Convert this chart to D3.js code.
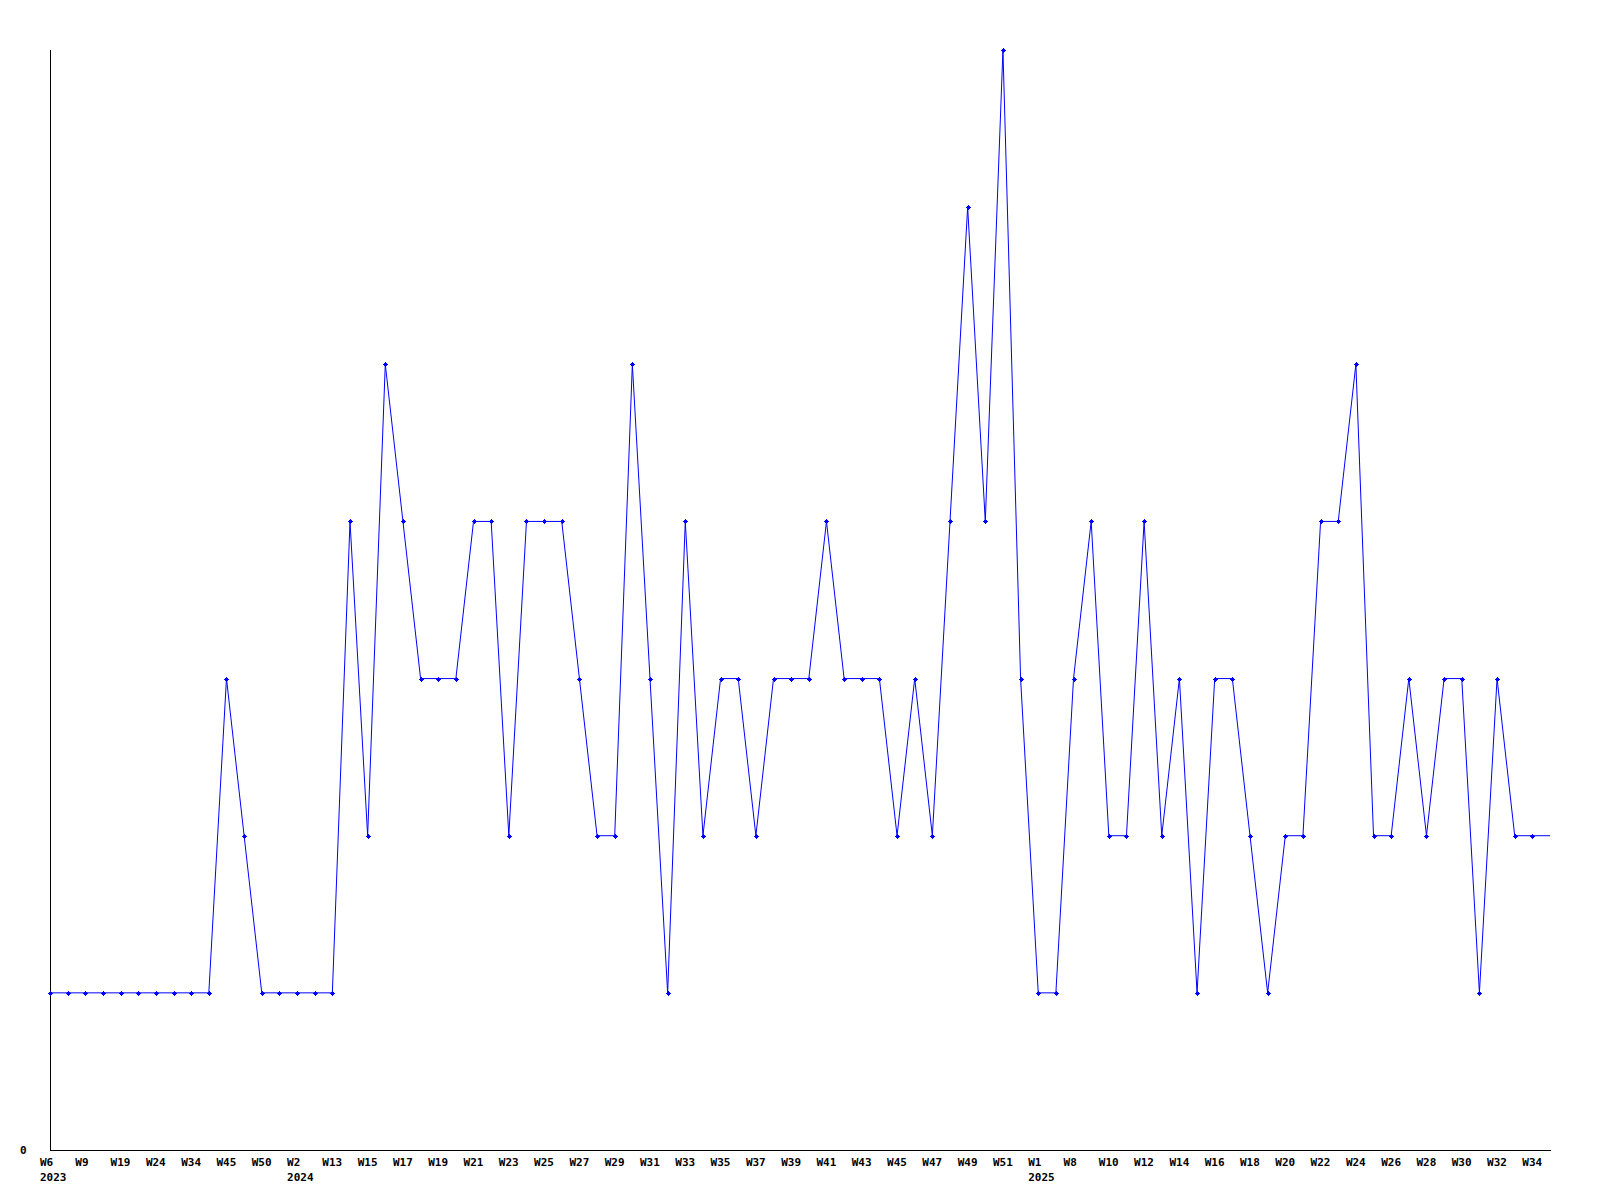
<!DOCTYPE html>
<html>
<head>
<meta charset="utf-8">
<script src="https://cdn.jsdelivr.net/npm/d3@7"></script>
<style>
  html, body { margin: 0; padding: 0; background: #fff; }
  text { font-family: "DejaVu Sans Mono", "Liberation Mono", monospace; font-weight: bold; font-size: 11px; fill: #000; }
</style>
</head>
<body>
<svg id="chart" width="1600" height="1200"></svg>
<script>
// Data: one point per week with activity
const weeks = [
  "W6","W8","W9","W14","W19","W21","W24","W29","W34","W40",
  "W45","W47","W50","W52","W2","W7","W13","W14","W15","W16",
  "W17","W18","W19","W20","W21","W22","W23","W24","W25","W26",
  "W27","W28","W29","W30","W31","W32","W33","W34","W35","W36",
  "W37","W38","W39","W40","W41","W42","W43","W44","W45","W46",
  "W47","W48","W49","W50","W51","W52","W1","W4","W8","W9",
  "W10","W11","W12","W13","W14","W15","W16","W17","W18","W19",
  "W20","W21","W22","W23","W24","W25","W26","W27","W28","W29",
  "W30","W31","W32","W33","W34","W35"
];
const years = [
  "2023","2023","2023","2023","2023","2023","2023","2023","2023","2023",
  "2023","2023","2023","2023","2024","2024","2024","2024","2024","2024",
  "2024","2024","2024","2024","2024","2024","2024","2024","2024","2024",
  "2024","2024","2024","2024","2024","2024","2024","2024","2024","2024",
  "2024","2024","2024","2024","2024","2024","2024","2024","2024","2024",
  "2024","2024","2024","2024","2024","2024","2025","2025","2025","2025",
  "2025","2025","2025","2025","2025","2025","2025","2025","2025","2025",
  "2025","2025","2025","2025","2025","2025","2025","2025","2025","2025",
  "2025","2025","2025","2025","2025","2025"
];
const values = [
  1,1,1,1,1,1,1,1,1,1,
  3,2,1,1,1,1,1,4,2,5,
  4,3,3,3,4,4,2,4,4,4,
  3,2,2,5,3,1,4,2,3,3,
  2,3,3,3,4,3,3,3,2,3,
  2,4,6,4,7,3,1,1,3,4,
  2,2,4,2,3,1,3,3,2,1,
  2,2,4,4,5,2,2,3,2,3,
  3,1,3,2,2,2
];
const yTickValues = [0];
const yMax = 7;

const svg = d3.select("#chart");
const mLeft = 50, mRight = 1550, mTop = 50, mBottom = 1150;

const idx = d3.range(values.length);
const x = d3.scalePoint().domain(idx).range([mLeft, mRight]);
const y = d3.scaleLinear().domain([0, yMax]).range([mBottom, mTop]);

// axes lines
svg.append("line").attr("x1", mLeft + 0.5).attr("x2", mLeft + 0.5).attr("y1", mTop).attr("y2", mBottom)
  .attr("stroke", "#000").attr("stroke-width", 1).attr("shape-rendering", "crispEdges");
svg.append("line").attr("x1", mLeft).attr("x2", mRight + 1).attr("y1", mBottom + 0.5).attr("y2", mBottom + 0.5)
  .attr("stroke", "#000").attr("stroke-width", 1).attr("shape-rendering", "crispEdges");

// y tick label
svg.selectAll(".ylab").data(yTickValues).join("text")
  .attr("class", "ylab").attr("x", 20).attr("y", d => y(d) + 4).text(d => d);

// x tick labels (every other point)
const labeled = idx.filter(i => i % 2 === 0);
svg.selectAll(".xlab").data(labeled).join("text")
  .attr("class", "xlab").attr("x", i => x(i) - 10).attr("y", 1166).text(i => weeks[i]);
// year labels at first labeled point of each year
const yearStarts = labeled.filter(i => i === 0 || years[i] !== years[i - 2]);
svg.selectAll(".yrlab").data(yearStarts).join("text")
  .attr("class", "yrlab").attr("x", i => x(i) - 10).attr("y", 1181).text(i => years[i]);

// line
const line = d3.line().x(i => x(i)).y(i => y(values[i]));
svg.append("path").datum(idx).attr("d", line)
  .attr("fill", "none").attr("stroke", "#0000ff").attr("stroke-width", 1);

// markers (last point falls on plot edge and is not marked)
const marked = idx.slice(0, values.length - 1);
const mk = svg.append("g").attr("fill", "#0000ff").attr("shape-rendering", "crispEdges");
mk.selectAll("rect.c").data(marked).join("rect").attr("class", "c")
  .attr("x", i => Math.round(x(i)) - 1.5).attr("y", i => Math.round(y(values[i])) - 1.5)
  .attr("width", 3).attr("height", 3);
mk.selectAll("rect.h").data(marked).join("rect").attr("class", "h")
  .attr("x", i => Math.round(x(i)) - 2.5).attr("y", i => Math.round(y(values[i])) - 0.5)
  .attr("width", 5).attr("height", 1);
mk.selectAll("rect.v").data(marked).join("rect").attr("class", "v")
  .attr("x", i => Math.round(x(i)) - 0.5).attr("y", i => Math.round(y(values[i])) - 2.5)
  .attr("width", 1).attr("height", 5);
</script>
</body>
</html>
